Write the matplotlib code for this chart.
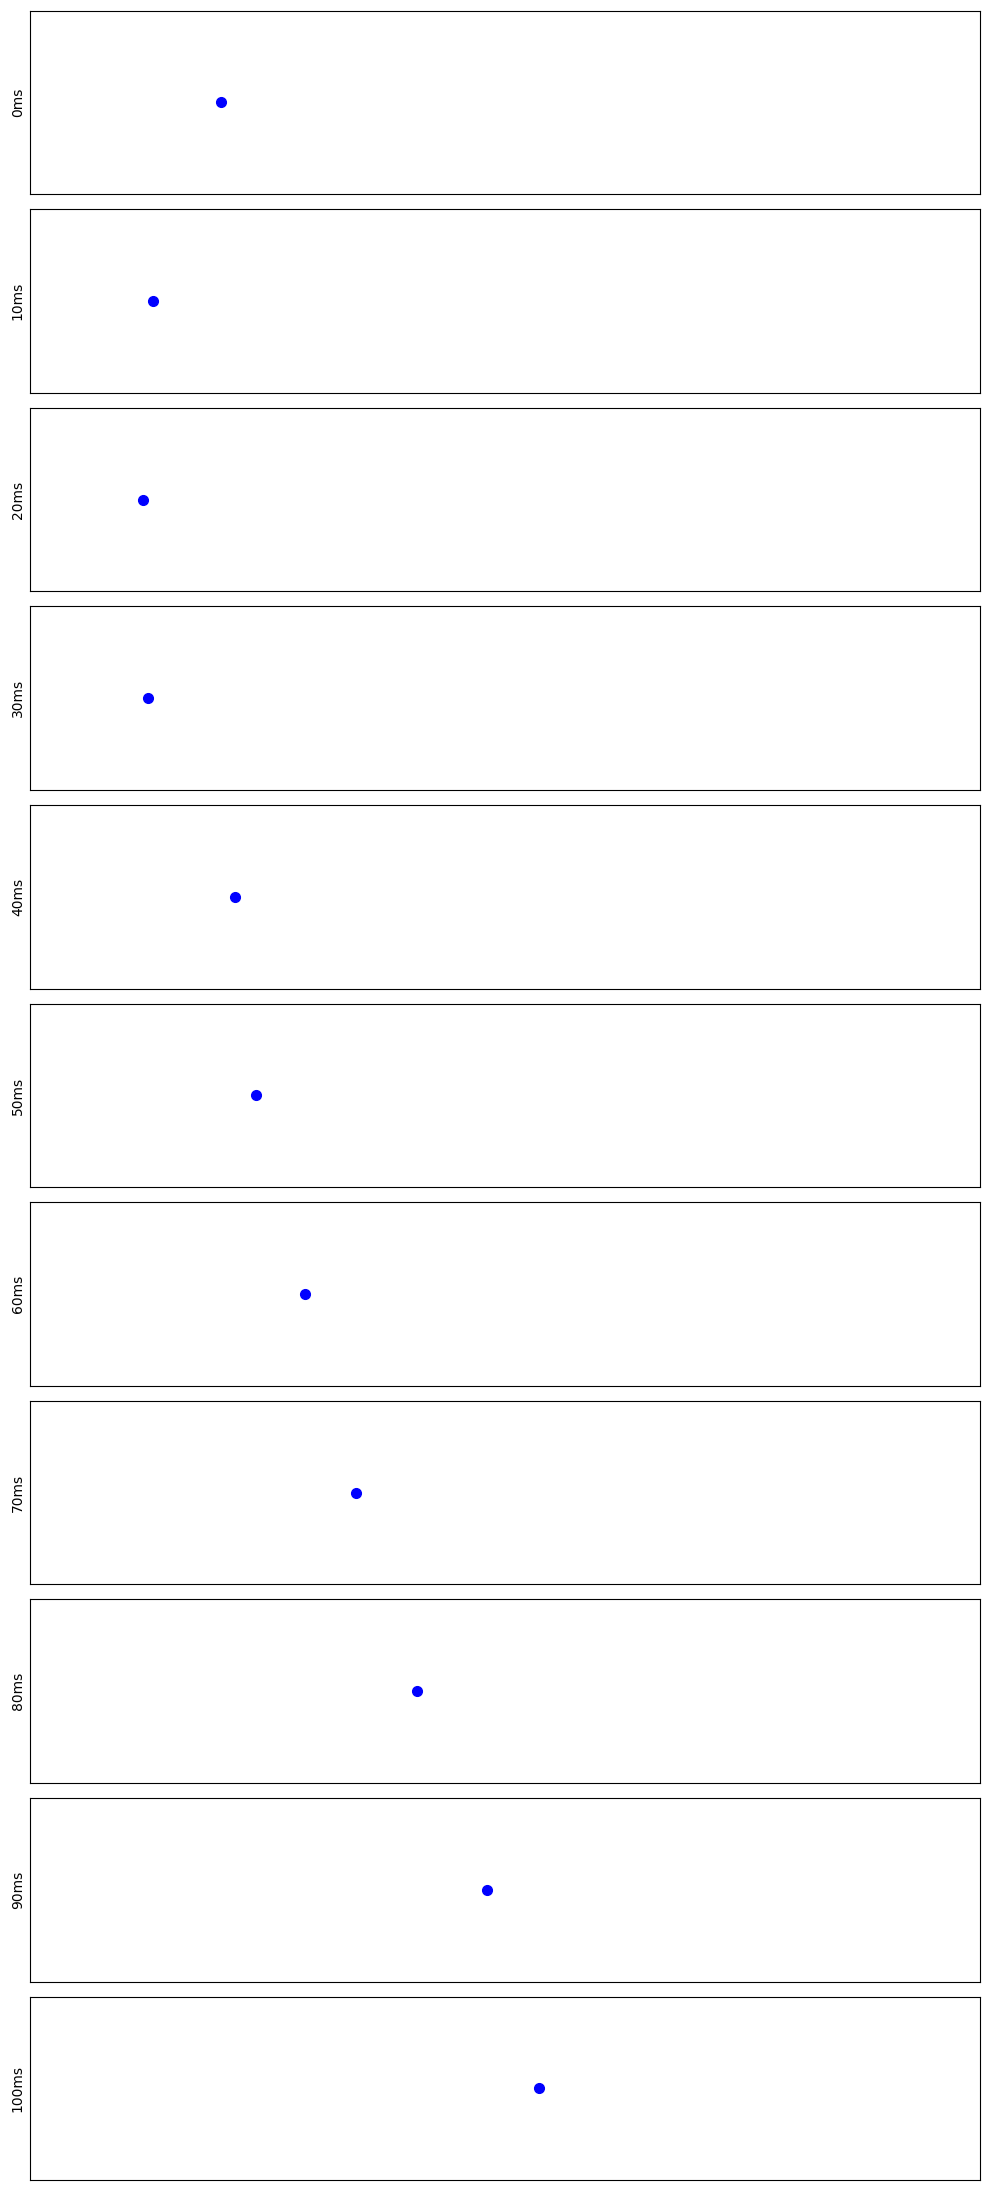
import matplotlib
matplotlib.use('Agg')
import matplotlib.pyplot as plt

# 各时刻的标签和点的位置
time_labels = ['0ms', '10ms', '20ms', '30ms', '40ms', '50ms', '60ms', '70ms', '80ms', '90ms', '100ms']
x_pos = [20.1, 12.9, 11.9, 12.4, 21.5, 23.7, 28.9, 34.3, 40.7, 48.1, 53.5]
y_pos = [0, 0, 0, 0, 0, 0, 0, 0, 0, 0, 0]

fig, axes = plt.subplots(len(time_labels), 1, figsize=(9.89, 21.9), dpi=100)
fig.subplots_adjust(left=0.0308, right=0.991, top=0.9951, bottom=0.0045, hspace=0.082)

for ax, label, x, y in zip(axes, time_labels, x_pos, y_pos):
    ax.plot(x, y, 'o', color='blue', markersize=7)
    ax.set_xlim(0, 100)
    ax.set_ylim(-1, 1)
    ax.set_xticks([])
    ax.set_yticks([])
    ax.set_ylabel(label, fontsize=10)

plt.savefig('out.png', dpi=100)
